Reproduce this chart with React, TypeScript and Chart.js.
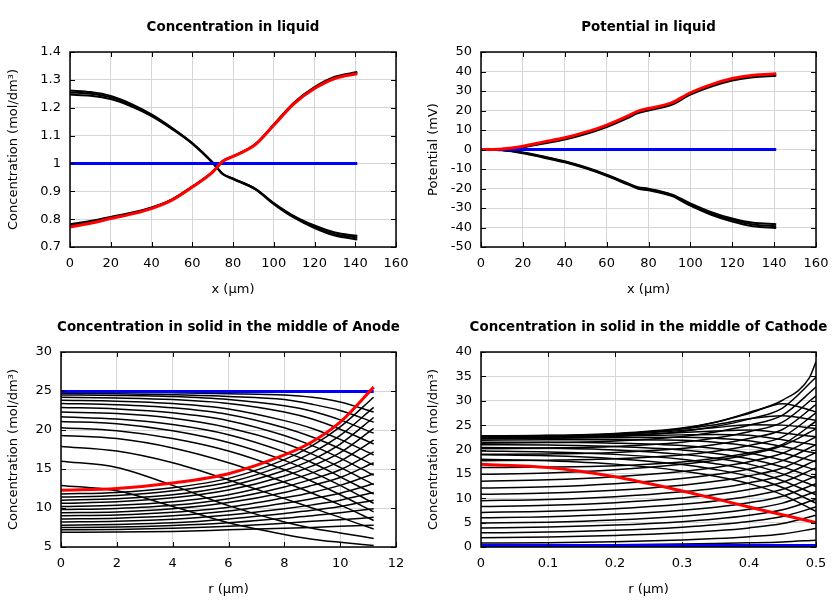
import React, { useEffect, useRef } from "react";
import { Chart, registerables } from "chart.js";

Chart.register(...registerables);

const FONT = "'DejaVu Sans', sans-serif";

// ---------- Concentration in liquid ----------
const liquidX = [0, 10, 20, 30, 40, 50, 60, 70, 75, 80, 91, 100, 110, 120, 130, 141];
const concDownA = [1.262, 1.256, 1.242, 1.214, 1.176, 1.128, 1.073, 1.004, 0.963, 0.946, 0.909, 0.858, 0.811, 0.777, 0.752, 0.740];
const concDownB = [1.255, 1.25, 1.237, 1.21, 1.173, 1.126, 1.072, 1.003, 0.962, 0.945, 0.908, 0.856, 0.808, 0.772, 0.746, 0.734];
const concDownC = [1.247, 1.243, 1.231, 1.205, 1.17, 1.124, 1.071, 1.002, 0.961, 0.944, 0.907, 0.854, 0.805, 0.768, 0.741, 0.727];
const concUpA = [0.782, 0.793, 0.808, 0.823, 0.842, 0.871, 0.917, 0.970, 1.009, 1.026, 1.070, 1.140, 1.219, 1.274, 1.311, 1.328];
const concUpB = [0.776, 0.788, 0.804, 0.820, 0.840, 0.869, 0.916, 0.969, 1.008, 1.025, 1.069, 1.138, 1.217, 1.271, 1.308, 1.325];
const concRed = [0.772, 0.785, 0.802, 0.818, 0.838, 0.868, 0.915, 0.969, 1.008, 1.025, 1.068, 1.137, 1.215, 1.269, 1.305, 1.322];
const concBlueX = [0, 141];
const concBlue = [1, 1];

// ---------- Potential in liquid ----------
const potRed = [0, 0.3, 1.7, 3.9, 6.0, 8.9, 12.5, 17.1, 19.7, 21.0, 23.9, 29.1, 33.3, 36.4, 38.1, 38.8];
const potUpA = [0, 0.2, 1.4, 3.5, 5.5, 8.4, 12.0, 16.6, 19.2, 20.5, 23.4, 28.6, 32.8, 35.9, 37.6, 38.3];
const potUpB = [0, 0.1, 1.1, 3.1, 5.1, 7.9, 11.5, 16.1, 18.7, 20.0, 22.9, 28.1, 32.3, 35.4, 37.1, 37.8];
const potDownA = [0, -0.2, -1.5, -3.6, -6.0, -9.1, -12.9, -17.3, -19.3, -20.1, -23.0, -27.6, -32.1, -35.4, -37.6, -38.3];
const potDownB = [0, -0.3, -1.7, -3.9, -6.3, -9.4, -13.2, -17.6, -19.7, -20.5, -23.4, -28.2, -32.8, -36.2, -38.5, -39.3];
const potDownC = [0, -0.4, -1.9, -4.2, -6.6, -9.7, -13.5, -17.9, -20.1, -20.9, -23.8, -28.8, -33.5, -37.0, -39.4, -40.3];
const potBlueX = [0, 141];
const potBlue = [0, 0];

// ---------- Solid, middle of anode ----------
const anodeR = [0, 2, 4, 6, 8, 9, 10, 11.2];
const anodeRed = [12.27, 12.5, 13.2, 14.4, 16.8, 18.5, 21.0, 25.5];
const anodeBlueR = [0, 11.2];
const anodeBlue = [24.95, 24.95];
const anodeDischarge = [
  [24.85, 24.83, 24.77, 24.65, 24.5, 24.2, 23.6, 22.3],
  [24.7, 24.66, 24.52, 24.3, 23.9, 23.3, 22.5, 21.0],
  [24.5, 24.43, 24.28, 23.9, 23.1, 22.4, 21.3, 19.6],
  [24.2, 24.1, 23.9, 23.4, 22.3, 21.4, 20.1, 18.2],
  [23.8, 23.7, 23.4, 22.7, 21.2, 20.2, 18.8, 16.8],
  [23.4, 23.25, 22.85, 22.0, 20.3, 19.1, 17.6, 15.5],
  [22.9, 22.7, 22.2, 21.2, 19.3, 18.0, 16.4, 14.2],
  [22.3, 22.1, 21.5, 20.3, 18.3, 16.9, 15.2, 13.0],
  [21.7, 21.4, 20.7, 19.4, 17.2, 15.8, 14.0, 11.8],
  [21.1, 20.8, 19.9, 18.4, 16.1, 14.6, 12.9, 10.6],
  [20.3, 19.9, 18.9, 17.3, 14.9, 13.4, 11.7, 9.5],
  [19.3, 18.9, 17.7, 15.8, 13.3, 11.9, 10.4, 8.4],
  [17.9, 17.3, 15.8, 13.6, 11.2, 10.0, 8.8, 7.3],
  [16.0, 15.2, 12.9, 10.3, 8.2, 7.4, 6.8, 6.1],
  [12.9, 12.2, 10.2, 8.1, 6.6, 6.0, 5.6, 5.2],
];
const anodeCharge = [
  [11.8, 12.0, 12.6, 13.8, 16.2, 18.0, 20.4, 24.2],
  [11.4, 11.6, 12.2, 13.3, 15.5, 17.1, 19.3, 22.9],
  [11.0, 11.2, 11.7, 12.8, 14.8, 16.2, 18.2, 21.6],
  [10.6, 10.8, 11.3, 12.3, 14.1, 15.4, 17.1, 20.2],
  [10.2, 10.35, 10.8, 11.7, 13.4, 14.5, 16.0, 18.7],
  [9.8, 9.95, 10.35, 11.2, 12.7, 13.7, 14.9, 17.2],
  [9.4, 9.5, 9.9, 10.7, 12.0, 12.9, 13.9, 15.8],
  [9.0, 9.1, 9.45, 10.1, 11.3, 12.0, 12.9, 14.4],
  [8.6, 8.7, 9.0, 9.6, 10.6, 11.2, 11.9, 13.1],
  [8.2, 8.3, 8.55, 9.1, 9.9, 10.4, 11.0, 12.0],
  [7.8, 7.9, 8.1, 8.6, 9.3, 9.7, 10.2, 11.0],
  [7.5, 7.55, 7.75, 8.1, 8.7, 9.0, 9.4, 9.9],
  [7.2, 7.25, 7.4, 7.65, 8.05, 8.3, 8.5, 8.8],
  [6.9, 6.92, 7.0, 7.2, 7.4, 7.5, 7.65, 7.8],
];

// ---------- Solid, middle of cathode ----------
const cathodeR = [0, 0.1, 0.2, 0.3, 0.35, 0.4, 0.45, 0.5];
const cathodeRed = [16.96, 16.3, 14.4, 11.5, 9.9, 8.2, 6.6, 5.0];
const cathodeBlueR = [0, 0.5];
const cathodeBlue = [0.3, 0.3];
const cathodeTopR = [0, 0.1, 0.2, 0.3, 0.35, 0.4, 0.45, 0.49, 0.5];
const cathodeTop = [22.7, 22.8, 23.0, 24.3, 25.6, 27.6, 30.1, 34.7, 38.0];
const cathodeDischarge = [
  [0.4, 0.42, 0.48, 0.6, 0.7, 0.85, 1.05, 1.4],
  [0.8, 0.89, 1.1, 1.46, 1.73, 2.12, 2.69, 3.8],
  [1.9, 2.04, 2.36, 2.91, 3.33, 3.92, 4.8, 6.5],
  [2.9, 3.06, 3.43, 4.07, 4.54, 5.23, 6.24, 8.2],
  [3.9, 4.08, 4.49, 5.2, 5.73, 6.5, 7.62, 9.8],
  [4.9, 5.1, 5.55, 6.33, 6.92, 7.76, 9.0, 11.4],
  [6.0, 6.21, 6.7, 7.54, 8.17, 9.08, 10.41, 13.0],
  [7.1, 7.33, 7.85, 8.75, 9.43, 10.4, 11.83, 14.6],
  [8.3, 8.54, 9.09, 10.04, 10.75, 11.78, 13.28, 16.2],
  [9.5, 9.75, 10.33, 11.33, 12.07, 13.15, 14.73, 17.8],
  [10.8, 11.06, 11.66, 12.69, 13.47, 14.58, 16.22, 19.4],
  [12.1, 12.37, 12.99, 14.06, 14.86, 16.02, 17.71, 21.0],
  [13.5, 13.77, 14.41, 15.5, 16.32, 17.5, 19.23, 22.6],
  [14.9, 15.18, 15.83, 16.95, 17.78, 18.99, 20.76, 24.2],
  [16.3, 16.4, 16.68, 17.44, 18.2, 19.34, 21.05, 25.8],
  [17.7, 17.8, 18.09, 18.88, 19.66, 20.84, 22.6, 27.5],
  [19.0, 19.1, 19.41, 20.22, 21.04, 22.26, 24.1, 29.2],
  [20.2, 20.31, 20.63, 21.5, 22.36, 23.66, 25.6, 31.0],
  [21.3, 21.42, 21.76, 22.68, 23.6, 24.98, 27.05, 32.8],
  [22.2, 22.33, 22.7, 23.71, 24.72, 26.23, 28.5, 34.8],
];
const cathodeCharge = [
  [22.8, 22.9, 23.3, 24.4, 25.6, 27.4, 29.4, 27.7],
  [22.75, 22.85, 23.2, 24.2, 25.1, 26.3, 26.9, 26.0],
  [22.7, 22.8, 23.1, 23.9, 24.5, 25.1, 25.0, 24.3],
  [22.6, 22.7, 22.9, 23.5, 23.8, 24.0, 23.4, 22.6],
  [22.4, 22.5, 22.7, 23.0, 23.1, 22.9, 22.0, 20.9],
  [22.2, 22.3, 22.4, 22.5, 22.3, 21.8, 20.6, 19.2],
  [21.9, 22.0, 22.0, 21.9, 21.5, 20.7, 19.3, 17.5],
  [21.5, 21.5, 21.3, 20.8, 20.2, 19.3, 17.8, 15.8],
  [21.0, 20.9, 20.6, 19.9, 19.2, 18.1, 16.4, 14.1],
  [20.4, 20.3, 19.9, 19.0, 18.2, 17.0, 15.0, 12.4],
  [19.7, 19.5, 19.0, 18.0, 17.1, 15.8, 13.6, 10.7],
  [18.9, 18.7, 18.1, 16.9, 15.9, 14.5, 12.2, 9.0],
  [18.0, 17.7, 17.0, 15.6, 14.5, 13.0, 10.7, 7.3],
];

// ---------- helpers ----------
type Series = { xs: number[]; ys: number[]; color: string; width: number };

function toDataset(s: Series) {
  return {
    data: s.xs.map((x, i) => ({ x, y: s.ys[i] })),
    borderColor: s.color,
    backgroundColor: s.color,
    borderWidth: s.width,
    pointRadius: 0,
    fill: false,
    cubicInterpolationMode: "monotone" as const,
  };
}

const fmt = (v: number | string) => String(Number(Number(v).toFixed(3)));

type PanelProps = {
  left: number;
  top: number;
  title: string;
  xTitle: string;
  yTitle: string;
  xMin: number;
  xMax: number;
  xStep: number;
  yMin: number;
  yMax: number;
  yStep: number;
  yWidth: number;
  series: Series[];
};

function Panel(p: PanelProps) {
  const ref = useRef<HTMLCanvasElement | null>(null);
  useEffect(() => {
    if (!ref.current) return;
    const framePlugin = {
      id: "frameAndTitle",
      afterDraw(chart: any) {
        const { ctx, chartArea: a, scales } = chart;
        ctx.save();
        ctx.strokeStyle = "#000";
        ctx.lineWidth = 1;
        ctx.beginPath();
        scales.x.ticks.forEach((t: any) => {
          const px = Math.round(scales.x.getPixelForValue(t.value)) + 0.5;
          ctx.moveTo(px, a.bottom);
          ctx.lineTo(px, a.bottom - 5);
          ctx.moveTo(px, a.top);
          ctx.lineTo(px, a.top + 5);
        });
        scales.y.ticks.forEach((t: any) => {
          const py = Math.round(scales.y.getPixelForValue(t.value)) + 0.5;
          ctx.moveTo(a.left, py);
          ctx.lineTo(a.left + 5, py);
          ctx.moveTo(a.right, py);
          ctx.lineTo(a.right - 5, py);
        });
        ctx.stroke();
        ctx.lineWidth = 1.5;
        ctx.strokeRect(a.left, a.top, a.right - a.left, a.bottom - a.top);
        ctx.font = `bold 13.4px ${FONT}`;
        ctx.fillStyle = "#000";
        ctx.textAlign = "center";
        ctx.textBaseline = "alphabetic";
        ctx.fillText(p.title, (a.left + a.right) / 2, 30.5);
        ctx.restore();
      },
    };
    const tickFont = { family: FONT, size: 13 };
    const chart = new Chart(ref.current, {
      type: "line",
      data: { datasets: p.series.map(toDataset) as any },
      options: {
        responsive: false,
        animation: false,
        events: [],
        layout: { padding: { top: 52, right: 24, left: 0, bottom: 0 } },
        plugins: { legend: { display: false }, title: { display: false }, tooltip: { enabled: false } },
        scales: {
          x: {
            type: "linear",
            min: p.xMin,
            max: p.xMax,
            afterFit: (s: any) => {
              s.height = 53;
            },
            ticks: { stepSize: p.xStep, padding: 9, color: "#000", font: tickFont, maxRotation: 0, autoSkip: false, callback: fmt },
            grid: { color: "#d6d6d6", lineWidth: 1, drawTicks: false },
            border: { display: false },
            title: { display: true, text: p.xTitle, color: "#000", font: tickFont, padding: { top: 0, bottom: 3 } },
          },
          y: {
            type: "linear",
            min: p.yMin,
            max: p.yMax,
            afterFit: (s: any) => {
              s.width = p.yWidth;
            },
            ticks: { stepSize: p.yStep, padding: 9, color: "#000", font: tickFont, autoSkip: false, callback: fmt },
            grid: { color: "#d6d6d6", lineWidth: 1, drawTicks: false },
            border: { display: false },
            title: { display: true, text: p.yTitle, color: "#000", font: tickFont, padding: { top: 6, bottom: 0 } },
          },
        },
      },
      plugins: [framePlugin],
    });
    return () => chart.destroy();
  }, []);
  return (
    <div style={{ position: "absolute", left: p.left, top: p.top, width: 420, height: 300 }}>
      <canvas ref={ref} width={420} height={300} style={{ width: 420, height: 300, display: "block" }} />
    </div>
  );
}

const RED = "#ff0000";
const BLUE = "#0000ff";
const BLACK = "#000000";

export default function App() {
  const concSeries: Series[] = [
    { xs: liquidX, ys: concRed, color: RED, width: 3 },
    { xs: concBlueX, ys: concBlue, color: BLUE, width: 3 },
    { xs: liquidX, ys: concUpA, color: BLACK, width: 2 },
    { xs: liquidX, ys: concUpB, color: BLACK, width: 2 },
    { xs: liquidX, ys: concDownA, color: BLACK, width: 2 },
    { xs: liquidX, ys: concDownB, color: BLACK, width: 2 },
    { xs: liquidX, ys: concDownC, color: BLACK, width: 2 },
  ];
  const potSeries: Series[] = [
    { xs: liquidX, ys: potRed, color: RED, width: 3 },
    { xs: potBlueX, ys: potBlue, color: BLUE, width: 3 },
    { xs: liquidX, ys: potUpA, color: BLACK, width: 2 },
    { xs: liquidX, ys: potUpB, color: BLACK, width: 2 },
    { xs: liquidX, ys: potDownA, color: BLACK, width: 2 },
    { xs: liquidX, ys: potDownB, color: BLACK, width: 2 },
    { xs: liquidX, ys: potDownC, color: BLACK, width: 2 },
  ];
  const anodeSeries: Series[] = [
    { xs: anodeR, ys: anodeRed, color: RED, width: 3 },
    { xs: anodeBlueR, ys: anodeBlue, color: BLUE, width: 3 },
    ...anodeDischarge.map((ys) => ({ xs: anodeR, ys, color: BLACK, width: 1.5 })),
    ...anodeCharge.map((ys) => ({ xs: anodeR, ys, color: BLACK, width: 1.5 })),
  ];
  const cathodeSeries: Series[] = [
    { xs: cathodeR, ys: cathodeRed, color: RED, width: 3 },
    { xs: cathodeBlueR, ys: cathodeBlue, color: BLUE, width: 3 },
    { xs: cathodeTopR, ys: cathodeTop, color: BLACK, width: 1.5 },
    ...cathodeDischarge.map((ys) => ({ xs: cathodeR, ys, color: BLACK, width: 1.5 })),
    ...cathodeCharge.map((ys) => ({ xs: cathodeR, ys, color: BLACK, width: 1.5 })),
  ];
  const yConc = "Concentration (mol/dm\u00B3)";
  return (
    <div style={{ position: "absolute", left: 0, top: 0, width: 840, height: 600, background: "#fff", overflow: "hidden" }}>
      <Panel left={0} top={0} title="Concentration in liquid" xTitle="x (µm)" yTitle={yConc}
        xMin={0} xMax={160} xStep={20} yMin={0.7} yMax={1.4} yStep={0.1} yWidth={70} series={concSeries} />
      <Panel left={420} top={0} title="Potential in liquid" xTitle="x (µm)" yTitle="Potential (mV)"
        xMin={0} xMax={160} xStep={20} yMin={-50} yMax={50} yStep={10} yWidth={61} series={potSeries} />
      <Panel left={0} top={300} title="Concentration in solid in the middle of Anode" xTitle="r (µm)" yTitle={yConc}
        xMin={0} xMax={12} xStep={2} yMin={5} yMax={30} yStep={5} yWidth={61} series={anodeSeries} />
      <Panel left={420} top={300} title="Concentration in solid in the middle of Cathode" xTitle="r (µm)" yTitle={yConc}
        xMin={0} xMax={0.5} xStep={0.1} yMin={0} yMax={40} yStep={5} yWidth={61} series={cathodeSeries} />
    </div>
  );
}
